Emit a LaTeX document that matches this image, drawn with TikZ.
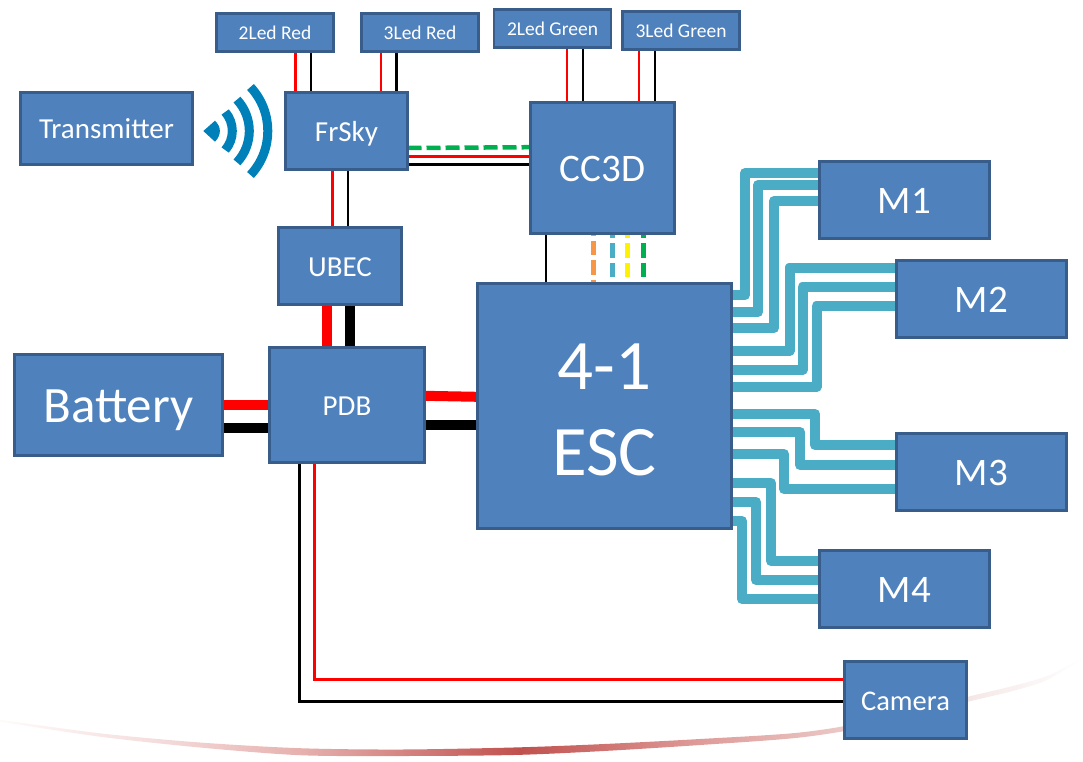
\documentclass[tikz,border=0pt]{standalone}
\usepackage{fontspec}
\setmainfont{Carlito}
\definecolor{boxfill}{HTML}{4F81BD}
\definecolor{boxline}{HTML}{385D8A}
\definecolor{motorteal}{HTML}{4BACC6}
\definecolor{wifiblue}{HTML}{0080B8}
\definecolor{sigorange}{HTML}{F79646}
\definecolor{siggreen}{HTML}{00B050}
\pgfdeclarelayer{bg}
\pgfsetlayers{bg,main}
\pgfdeclarehorizontalshading{arcgrad}{100bp}{
  rgb(0bp)=(1,1,1);
  rgb(25bp)=(1,0.98,0.98);
  rgb(32bp)=(0.96,0.87,0.87);
  rgb(39bp)=(0.90,0.69,0.68);
  rgb(49bp)=(0.753,0.314,0.302);
  rgb(57bp)=(0.87,0.60,0.59);
  rgb(64bp)=(0.92,0.79,0.78);
  rgb(71bp)=(0.97,0.93,0.93);
  rgb(75bp)=(1,1,1);
  rgb(100bp)=(1,1,1)}
\tikzset{
  box/.style={draw=boxline,fill=boxfill,line width=2.5pt,inner sep=0pt,outer sep=0pt,
    text=white,align=center},
  fs/.style={font=\fontsize{#1}{#1}\selectfont,text height=0.644*#1+2,text depth=0pt},
  thinred/.style={draw=red,line width=2.5pt},
  thinblack/.style={draw=black,line width=2.5pt},
  fatred/.style={draw=red,line width=10pt},
  fatblack/.style={draw=black,line width=10pt},
  motorwire/.style={draw=motorteal,line width=10pt,line join=round},
  sigwire/.style={line width=5pt,dash pattern=on 14.5pt off 5pt},
  wave/.style={draw=wifiblue,line width=9pt}
}
\begin{document}
\begin{tikzpicture}[x=1pt,y=-1pt]
\useasboundingbox (0,0) rectangle (1083,761);
% boxes
\node[box,fs=29,minimum width=172,minimum height=72] (tx) at (106.5,128.5) {Transmitter};
\node[box,fs=19.5,minimum width=117,minimum height=38] (r2) at (275,32.5) {2Led Red};
\node[box,fs=19.5,minimum width=117,minimum height=38] (r3) at (420,32.5) {3Led Red};
\node[box,fs=19.5,minimum width=117,minimum height=38] (g2) at (552.5,28.5) {2Led Green};
\node[box,fs=19.5,minimum width=117,minimum height=38] (g3) at (681,30.5) {3Led Green};
\node[box,fs=29,minimum width=122,minimum height=77] (frsky) at (346.5,131) {FrSky};
\node[box,fs=39,minimum width=144,minimum height=131] (cc) at (602.5,168) {CC3D};
\node[box,fs=29,minimum width=123,minimum height=77] (ubec) at (340,266) {UBEC};
\node[box,fs=51,minimum width=208,minimum height=101] (bat) at (118.5,405) {Battery};
\node[box,fs=29,minimum width=155,minimum height=115] (pdb) at (347,405) {PDB};
\node[box,font=\fontsize{71}{86}\selectfont,minimum width=254,minimum height=245] (esc) at (604.5,406) {\rule{0pt}{53pt}4-1\\ESC};
\node[box,fs=39,minimum width=170,minimum height=77] (m1) at (904.5,200) {M1};
\node[box,fs=39,minimum width=170,minimum height=77] (m2) at (981.5,299) {M2};
\node[box,fs=39,minimum width=170,minimum height=77] (m3) at (981.5,472) {M3};
\node[box,fs=39,minimum width=170,minimum height=77] (m4) at (904.5,589) {M4};
\node[box,fs=28.5,minimum width=122,minimum height=77] (cam) at (905.5,700) {Camera};
% wifi symbol
\coordinate (wifi) at (203.3,131);
\fill[wifiblue] (wifi) -- (215,120.7) .. controls (221.5,127) and (221.5,135) .. (215,141.7) -- cycle;
\draw[wave] (wifi) ++(41:29pt) arc[start angle=41,end angle=-41,radius=29pt];
\draw[wave] (wifi) ++(43:46pt) arc[start angle=43,end angle=-43,radius=46pt];
\draw[wave] (wifi) ++(43:64.5pt) arc[start angle=43,end angle=-43,radius=64.5pt];
\begin{pgfonlayer}{bg}
% background swoosh
\shade[shading=arcgrad]
  plot[smooth] coordinates {(0,719.7) (100,733.3) (200,742.5) (300,748.2) (400,749.5) (513,747.5) (600,744.2) (700,739) (800,732.5) (873,720.5) (973,695.5) (1007,687.5) (1040,678.5) (1057,671.5) (1083,657)}
  -- plot[smooth] coordinates {(1083,659) (1057,674.5) (1040,683) (1007,692.5) (973,700.5) (873,725.5) (800,737.5) (700,745) (600,751.2) (513,755) (400,756) (300,755.2) (200,747.5) (100,736.7) (0,721.7)}
  -- cycle;
% led wires
\draw[thinred] (295.5,0 |- r2.south) -- (295.5,0 |- frsky.north);
\draw[thinblack] (311,0 |- r2.south) -- (311,0 |- frsky.north);
\draw[thinred] (381,0 |- r3.south) -- (381,0 |- frsky.north);
\draw[thinblack] (396.5,0 |- r3.south) -- (396.5,0 |- frsky.north);
\draw[thinred] (567,0 |- g2.south) -- (567,0 |- cc.north);
\draw[thinblack] (583,0 |- g2.south) -- (583,0 |- cc.north);
\draw[thinred] (639,0 |- g3.south) -- (639,0 |- cc.north);
\draw[thinblack] (655,0 |- g3.south) -- (655,0 |- cc.north);
% FrSky links
\draw[thinred] (332.7,0 |- frsky.south) -- (332.7,0 |- ubec.north);
\draw[thinblack] (348,0 |- frsky.south) -- (348,0 |- ubec.north);
\draw[draw=siggreen,line width=4.5pt,dash pattern=on 14pt off 5pt] (frsky.east |- 0,148) -- (cc.west |- 0,147.2);
\draw[thinred] (frsky.east |- 0,156.7) -- (cc.west |- 0,156.7);
\draw[thinblack] (frsky.east |- 0,164.5) -- (cc.west |- 0,164.5);
% CC3D to ESC
\draw[thinblack] (546,0 |- cc.south) -- (546,0 |- esc.north);
\draw[sigwire,draw=sigorange,dash phase=12.5pt] (593,0 |- cc.south) -- (593,0 |- esc.north);
\draw[sigwire,draw=motorteal,dash phase=10pt] (612,0 |- cc.south) -- (612,0 |- esc.north);
\draw[sigwire,draw=yellow,dash phase=10pt] (627,0 |- cc.south) -- (627,0 |- esc.north);
\draw[sigwire,draw=siggreen,dash phase=10pt] (643,0 |- cc.south) -- (643,0 |- esc.north);
% power
\draw[fatred] (327,0 |- ubec.south) -- (327,0 |- pdb.north);
\draw[fatblack] (349.5,0 |- ubec.south) -- (349.5,0 |- pdb.north);
\draw[fatred] (bat.east |- 0,405) -- (pdb.west |- 0,405);
\draw[fatblack] (bat.east |- 0,428) -- (pdb.west |- 0,428);
\draw[fatred] (pdb.east |- 0,395.8) -- (esc.west |- 0,396.8);
\draw[fatblack] (pdb.east |- 0,425) -- (esc.west |- 0,425);
% camera
\draw[draw=red,line width=3pt] (314,0 |- pdb.south) -- (314,679) -- (cam.west |- 0,679);
\draw[draw=black,line width=3pt] (299,0 |- pdb.south) -- (299,701) -- (cam.west |- 0,701);
% motors
\draw[motorwire] (esc.east |- 0,295) -- (745,295) -- (745,173) -- (m1.west |- 0,173);
\draw[motorwire] (esc.east |- 0,312) -- (758,312) -- (758,185) -- (m1.west |- 0,185);
\draw[motorwire] (esc.east |- 0,328) -- (774,328) -- (774,201) -- (m1.west |- 0,201);
\draw[motorwire] (esc.east |- 0,351) -- (789.5,351) -- (789.5,267.5) -- (m2.west |- 0,267.5);
\draw[motorwire] (esc.east |- 0,370) -- (802.5,370) -- (802.5,287) -- (m2.west |- 0,287);
\draw[motorwire] (esc.east |- 0,387) -- (816.5,387) -- (816.5,306) -- (m2.west |- 0,306);
\draw[motorwire] (esc.east |- 0,414) -- (815,414) -- (815,445) -- (m3.west |- 0,445);
\draw[motorwire] (esc.east |- 0,432) -- (800,432) -- (800,465) -- (m3.west |- 0,465);
\draw[motorwire] (esc.east |- 0,454) -- (784,454) -- (784,489) -- (m3.west |- 0,489);
\draw[motorwire] (esc.east |- 0,483) -- (771,483) -- (771,561) -- (m4.west |- 0,561);
\draw[motorwire] (esc.east |- 0,502) -- (756,502) -- (756,580) -- (m4.west |- 0,580);
\draw[motorwire] (esc.east |- 0,521) -- (742,521) -- (742,599) -- (m4.west |- 0,599);
\end{pgfonlayer}
\end{tikzpicture}
\end{document}
